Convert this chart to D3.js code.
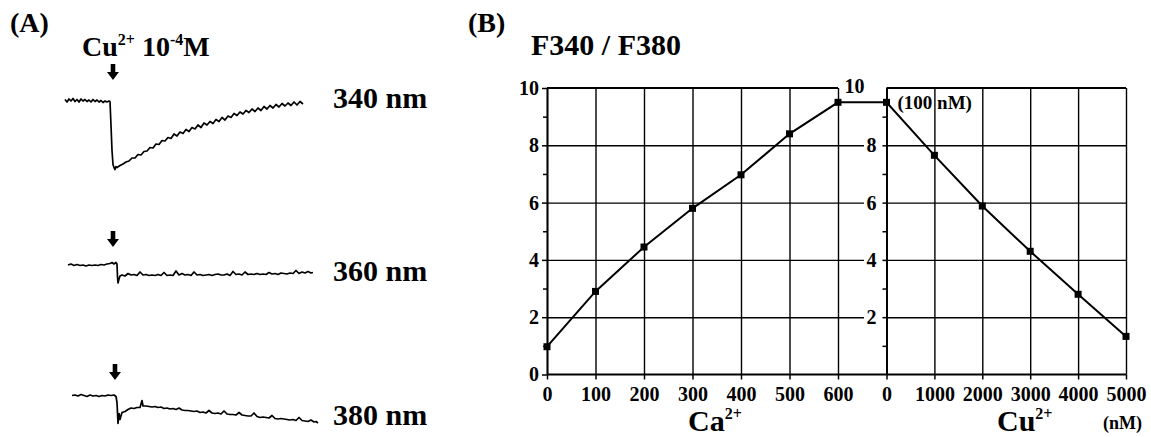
<!DOCTYPE html>
<html>
<head>
<meta charset="utf-8">
<script src="https://cdn.jsdelivr.net/npm/d3@7"></script>
<style>
  body { margin: 0; background: #fff; }
  svg { display: block; font-family: "Liberation Serif", "Times New Roman", serif; font-weight: bold; }
</style>
</head>
<body>
<svg id="chart" width="1151" height="437"></svg>
<script>
// panel B: F340/F380 ratio vs Ca2+ and Cu2+ concentration
const caConc = [0, 100, 200, 300, 400, 500, 600];
const caRatio = [0.97, 2.9, 4.45, 5.8, 6.97, 8.4, 9.5];
const cuConc = [0, 1000, 2000, 3000, 4000, 5000];
const cuRatio = [9.5, 7.65, 5.88, 4.3, 2.8, 1.33];
const ratioTicks = [0, 2, 4, 6, 8, 10];
const ratioMinor = [1, 3, 5, 7, 9];
const caTicks = [0, 100, 200, 300, 400, 500, 600];
const cuTicks = [0, 1000, 2000, 3000, 4000, 5000];

// panel A: fluorescence traces, [time, relative intensity]
const trace340 = [
    [0,101],[2,98.5],[4,101.5],[6,99.5],[8,102],[10,99],[12,101],[14,98.5],[16,101.5],[18,99.5],
    [20,101],[22,99],[24,100.5],[26,98.5],[28,101],[30,99],[32,100.5],[34,98.5],[36,100],[38,98],
    [40,99.5],[42,98.5],[44,99.5],[45,99],[46,75],[47,50],[48,36],[49,33],[50,31],[51,34],
    [52,33],[55,35],[58,36.5],[61,38.5],[64,39.5],[67,42.5],[70,42.5],[73,46],[76,45.5],[79,49],
    [82,49.5],[85,53],[88,52.5],[91,56.5],[94,56],[97,60],[100,59.5],[103,63],[106,62],[109,66.5],
    [112,64.5],[115,68.5],[118,67],[121,71],[124,69],[127,73],[130,71.5],[133,75.5],[136,73],[139,77.5],
    [142,75.5],[145,79],[148,77],[151,81],[154,79],[157,83],[160,80.5],[163,84.5],[166,83],[169,87],
    [172,85],[175,88.5],[178,86.5],[181,90],[184,88],[187,91.5],[190,89],[193,92.5],[196,90],[199,94],
    [202,91.5],[205,95],[208,92.5],[211,96],[214,93.5],[217,97],[220,94.5],[223,97.5],[226,95],[229,98.5],
    [232,95.5],[235,99],[238,96.5]
];
const trace360 = [
    [0,100],[3,101],[6,99.5],[9,100.5],[12,99.5],[15,100],[18,99],[21,100],[24,99.5],[27,100],
    [30,99.5],[33,100.5],[36,100],[39,101],[42,101.5],[44,102.5],[46,101],[48,102.5],[49,101],[49.5,88],
    [50,82],[51,86],[52,89],[54,90],[57,89],[60,91.5],[63,90],[66,90.5],[69,89.5],[72,93],
    [75,90],[78,90.5],[81,89.5],[84,90],[87,89.5],[90,90.5],[93,89.5],[96,92.5],[99,89.5],[102,90],
    [105,89.5],[108,94],[111,90],[114,91.5],[117,90],[120,90.5],[123,89.5],[126,93],[129,90],[132,90.5],
    [135,89.5],[138,90],[141,90.5],[144,89.5],[147,90.5],[150,91],[153,90],[156,90],[159,91],[162,89.5],
    [165,93.5],[168,90.5],[171,91],[174,90],[177,93],[180,90.5],[183,91],[186,90.5],[189,91.5],[192,90.5],
    [195,91],[198,90.5],[201,92.5],[204,91],[207,91.5],[210,90.5],[213,92],[216,91.5],[219,91],[222,92],
    [225,91.5],[228,94.5],[231,91.5],[234,93],[237,92],[240,93.5],[243,92],[245,92.5]
];
const trace380 = [
    [0,100],[3,100.5],[6,99.5],[9,101],[12,100],[15,99],[18,100.5],[21,99.5],[24,100],[27,99],
    [30,100],[33,99.5],[36,100.5],[39,100],[42,100.5],[44,99],[45,93],[46,72],[47,82],[48,76],
    [50,83],[53,84],[56,86],[59,87.5],[62,87],[65,88],[68,88],[70,95],[71,89.5],[74,89.5],
    [77,89],[80,88.5],[83,89],[86,88],[89,88.5],[92,87],[95,87.5],[98,86.5],[101,87],[104,86],
    [107,87.5],[110,85.5],[113,85],[116,85],[119,84.5],[122,84],[125,84.5],[128,83],[131,83.5],[134,82.5],
    [137,85],[140,82.5],[143,82],[146,82.5],[149,81.5],[152,84.5],[155,81.5],[158,81],[161,81],[164,80.5],
    [167,83],[170,80.5],[173,80],[176,79.5],[179,79.5],[182,82.5],[185,79],[188,78],[191,78.5],[194,78],
    [197,77.5],[200,80],[203,77],[206,76.5],[209,77],[212,76.5],[215,76],[218,75.5],[221,76],[224,75],
    [227,78],[230,75],[233,74.5],[236,74],[239,75.5],[242,73.5],[244,74],[246,72.5]
];
const traces = [trace340, trace360, trace380];
const traceLabels = ["340 nm", "360 nm", "380 nm"];

window.addEventListener('load', () => {

    const svg = d3.select("#chart");

    // ---------- panel A ----------
    const traceOrigin = [{x: 65, y: 100.5}, {x: 68, y: 265}, {x: 72, y: 395.5}];
    const arrowPos = [{x: 113, y: 64}, {x: 113, y: 231}, {x: 115, y: 364}];
    const labelY = [108, 281, 425];

    const tx = d3.scaleLinear().domain([0, 250]).range([0, 250]);
    const amp = d3.scaleLinear().domain([0, 100]).range([100, 0]);
    const traceLine = d3.line().x(d => tx(d[0])).y(d => amp(d[1]));

    svg.append("text").attr("x", 10).attr("y", 32).attr("font-size", 28).text("(A)");

    let head = svg.append("text").attr("x", 82).attr("y", 56).attr("font-size", 28);
    head.append("tspan").text("Cu");
    head.append("tspan").attr("dy", -11).attr("font-size", 16).text("2+");
    head.append("tspan").attr("dy", 11).text(" 10");
    head.append("tspan").attr("dy", -11).attr("font-size", 16).text("-4");
    head.append("tspan").attr("dy", 11).text("M");

    traces.forEach((tr, i) => {
        const o = traceOrigin[i];
        svg.append("path")
            .attr("transform", `translate(${o.x},${o.y - amp(100)})`)
            .attr("d", traceLine(tr))
            .attr("fill", "none")
            .attr("stroke", "#000")
            .attr("stroke-width", 1.7)
            .attr("stroke-linejoin", "round");

        const a = arrowPos[i];
        svg.append("path")
            .attr("d", `M${a.x - 2.3},${a.y} h4.6 v8 h3.7 l-6,8 l-6,-8 h3.7 z`)
            .attr("fill", "#000");

        svg.append("text")
            .attr("x", 333).attr("y", labelY[i])
            .attr("font-size", 30)
            .text(traceLabels[i]);
    });

    // ---------- panel B ----------
    const y = d3.scaleLinear().domain([0, 10]).range([374.5, 88]);
    const xCa = d3.scaleLinear().domain([0, 600]).range([547, 838]);
    const xCu = d3.scaleLinear().domain([0, 5000]).range([886.5, 1126]);
    const fmt = d3.format("d");

    svg.append("text").attr("x", 468).attr("y", 32).attr("font-size", 28).text("(B)");
    svg.append("text").attr("x", 531).attr("y", 55).attr("font-size", 30).text("F340 / F380");

    const styleAxis = g => {
        g.selectAll("path, line").attr("stroke", "#000").attr("stroke-width", 1.5);
        g.selectAll("text")
            .attr("font-family", "Liberation Serif, Times New Roman, serif")
            .attr("font-weight", "bold")
            .attr("font-size", 20)
            .attr("fill", "#000");
        g.attr("font-family", null).attr("font-size", null);
    };
    const gridStyle = g => {
        g.select(".domain").remove();
        g.selectAll("line").attr("stroke", "#000").attr("stroke-width", 1.4);
        g.selectAll("text").remove();
    };

    // vertical grid
    svg.append("g")
        .attr("transform", `translate(0,${y(0)})`)
        .call(d3.axisBottom(xCa).tickValues(caTicks).tickSize(-(y(0) - y(10))))
        .call(gridStyle);
    svg.append("g")
        .attr("transform", `translate(0,${y(0)})`)
        .call(d3.axisBottom(xCu).tickValues(cuTicks).tickSize(-(y(0) - y(10))))
        .call(gridStyle);

    // horizontal grid: left lines run on into the gap
    svg.append("g")
        .attr("transform", `translate(${xCa(0)},0)`)
        .call(d3.axisLeft(y).tickValues([2, 4, 6, 8]).tickSize(-(864 - xCa(0))))
        .call(gridStyle);
    svg.append("g")
        .attr("transform", `translate(${xCu(0)},0)`)
        .call(d3.axisLeft(y).tickValues([2, 4, 6, 8]).tickSize(-(xCu(5000) - xCu(0))))
        .call(gridStyle);

    // top borders and continuous bottom line
    [[xCa, 600], [xCu, 5000]].forEach(([sx, mx]) => {
        svg.append("line")
            .attr("x1", sx(0)).attr("x2", sx(mx))
            .attr("y1", y(10)).attr("y2", y(10))
            .attr("stroke", "#000").attr("stroke-width", 1.8);
    });
    svg.append("line")
        .attr("x1", xCa(0)).attr("x2", xCu(5000))
        .attr("y1", y(0)).attr("y2", y(0))
        .attr("stroke", "#000").attr("stroke-width", 2);

    // y axes
    svg.append("g")
        .attr("transform", `translate(${xCa(0)},0)`)
        .call(d3.axisLeft(y).tickValues(ratioTicks).tickSize(5).tickPadding(3).tickSizeOuter(0))
        .call(styleAxis);
    svg.append("g")
        .attr("transform", `translate(${xCa(0)},0)`)
        .call(d3.axisLeft(y).tickValues(ratioMinor).tickSize(4).tickFormat("").tickSizeOuter(0))
        .call(styleAxis);

    let rightY = svg.append("g")
        .attr("transform", `translate(${xCu(0)},0)`)
        .call(d3.axisLeft(y).tickValues(ratioTicks.slice(1)).tickSize(4).tickPadding(6).tickSizeOuter(0))
        .call(styleAxis);
    rightY.selectAll(".tick").filter(d => d === 10).select("text")
        .attr("dx", -12).attr("dy", "0.2em");
    rightY.selectAll(".tick").filter(d => d === 10).select("line").remove();
    svg.append("g")
        .attr("transform", `translate(${xCu(0)},0)`)
        .call(d3.axisLeft(y).tickValues(ratioMinor).tickSize(4).tickFormat("").tickSizeOuter(0))
        .call(styleAxis);

    // x axes
    let caAxis = svg.append("g")
        .attr("transform", `translate(0,${y(0)})`)
        .call(d3.axisBottom(xCa).tickValues(caTicks).tickFormat(fmt).tickSize(5).tickPadding(7).tickSizeOuter(0))
        .call(styleAxis);
    caAxis.select(".domain").remove();
    let cuAxis = svg.append("g")
        .attr("transform", `translate(0,${y(0)})`)
        .call(d3.axisBottom(xCu).tickValues(cuTicks).tickFormat(fmt).tickSize(5).tickPadding(7).tickSizeOuter(0))
        .call(styleAxis);
    cuAxis.select(".domain").remove();

    // data lines
    const caPts = caConc.map((c, i) => [xCa(c), y(caRatio[i])]);
    const cuPts = cuConc.map((c, i) => [xCu(c), y(cuRatio[i])]);
    const allPts = caPts.concat(cuPts);

    svg.append("path")
        .attr("d", d3.line()(allPts))
        .attr("fill", "none")
        .attr("stroke", "#000")
        .attr("stroke-width", 2);

    svg.selectAll(".marker")
        .data(allPts)
        .join("rect")
        .attr("class", "marker")
        .attr("x", d => d[0] - 3.5)
        .attr("y", d => d[1] - 3.5)
        .attr("width", 7)
        .attr("height", 7)
        .attr("fill", "#000");

    svg.append("text")
        .attr("x", xCu(0) + 11).attr("y", y(cuRatio[0]) + 7)
        .attr("font-size", 19)
        .text("(100 nM)");

    // axis titles
    let caTitle = svg.append("text").attr("x", 688).attr("y", 431).attr("font-size", 30);
    caTitle.append("tspan").text("Ca");
    caTitle.append("tspan").attr("dy", -12).attr("font-size", 16).text("2+");

    let cuTitle = svg.append("text").attr("x", 997).attr("y", 431).attr("font-size", 30);
    cuTitle.append("tspan").text("Cu");
    cuTitle.append("tspan").attr("dy", -12).attr("font-size", 16).text("2+");

    svg.append("text").attr("x", 1103).attr("y", 429).attr("font-size", 18).text("(nM)");

});
</script>
</body>
</html>
